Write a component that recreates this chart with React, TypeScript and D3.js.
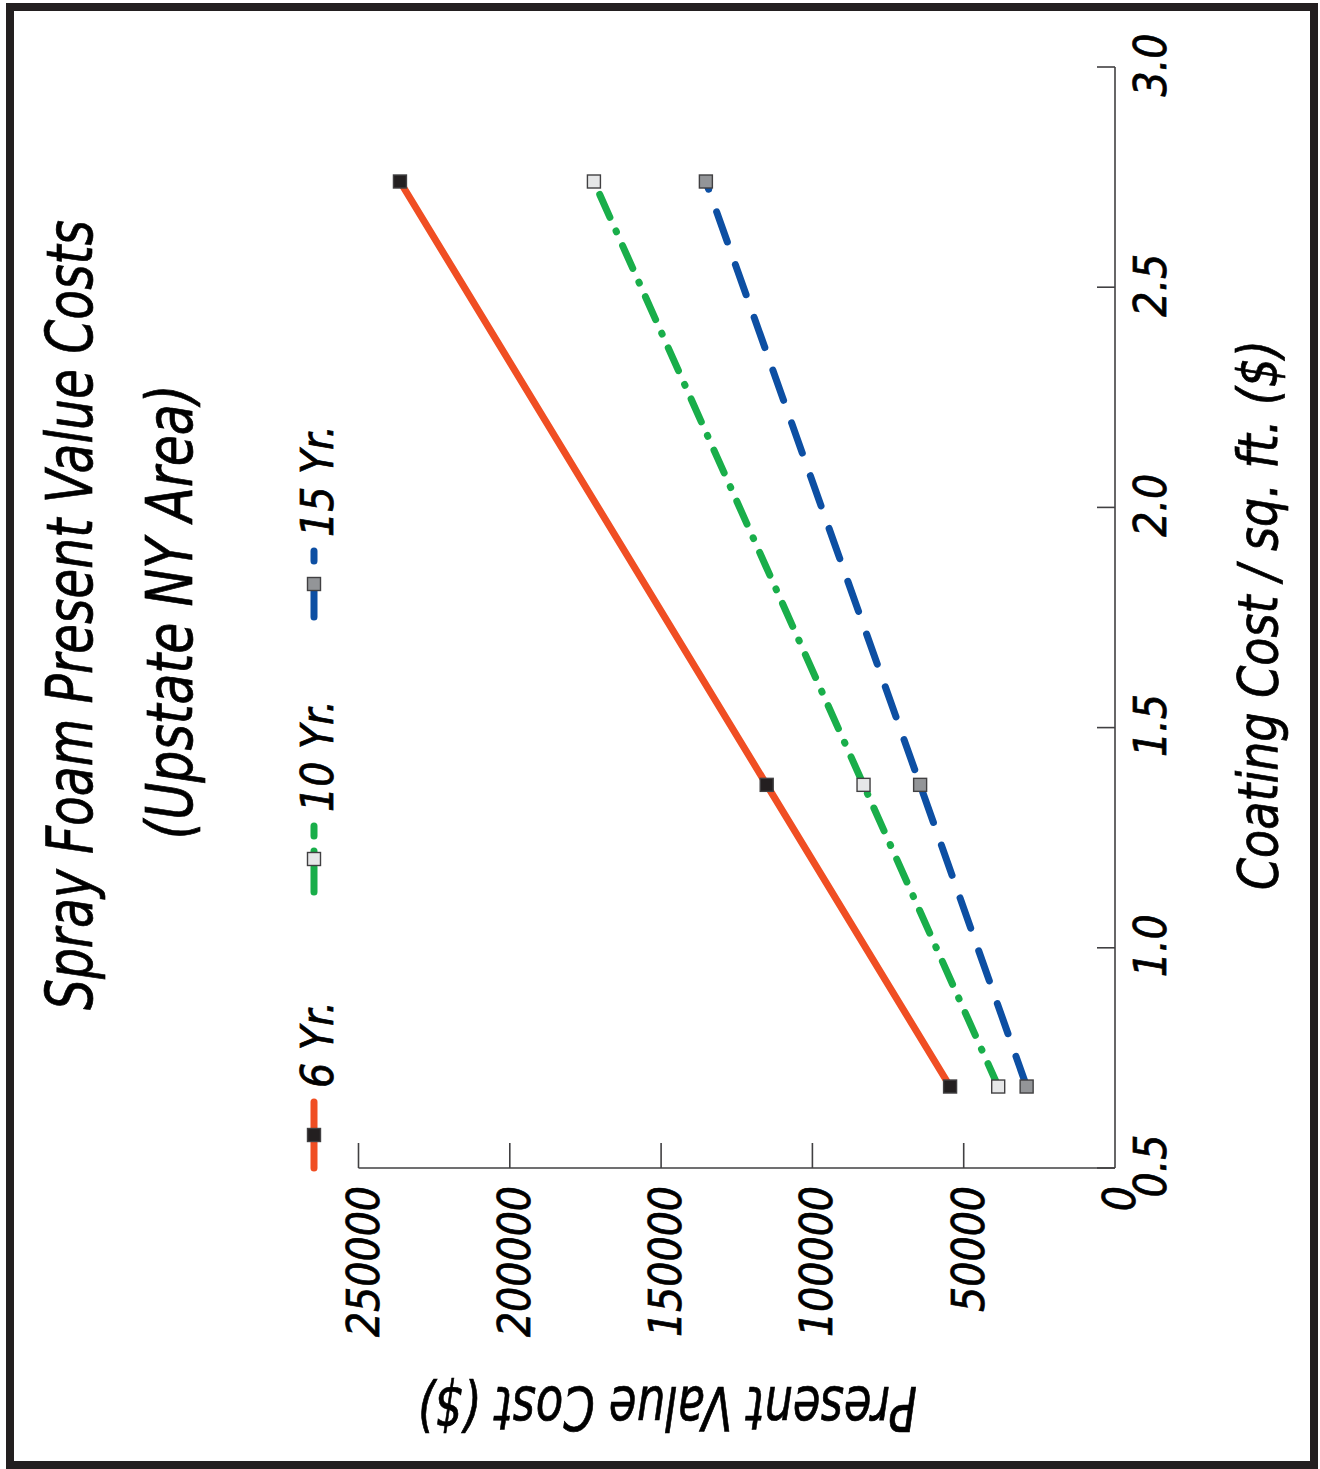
import React from "react";
import * as d3 from "d3";

const coatingCosts = [0.685, 1.37, 2.74];
const sixYr = [54500, 115100, 236300];
const tenYr = [38600, 83100, 172200];
const fifteenYr = [29200, 64400, 135200];
const xTicks = [0.5, 1.0, 1.5, 2.0, 2.5, 3.0];
const yTicks = [0, 50000, 100000, 150000, 200000, 250000];
const seriesNames = ["6 Yr.", "10 Yr.", "15 Yr."];
const titleLines = ["Spray Foam Present Value Costs", "(Upstate NY Area)"];
const xTitle = "Coating Cost / sq. ft. ($)";
const yTitle = "Present Value Cost ($)";

const FONT = "'Liberation Sans Narrow', 'DejaVu Sans Condensed', 'Liberation Sans', sans-serif";
const INK = "#231f20";
const AXIS = "#414042";

const series = [
  { name: seriesNames[0], values: sixYr, color: "#f04e23", dash: "none", fill: "#231f20" },
  { name: seriesNames[1], values: tenYr, color: "#19ae4a", dash: "25 15 1 15", fill: "#e6e7e8" },
  { name: seriesNames[2], values: fifteenYr, color: "#0d4fa3", dash: "32 24", fill: "#939598" },
];

const textStyle = {
  fontFamily: FONT,
  fontStyle: "italic" as const,
  fill: "#000",
  stroke: "#000",
  strokeWidth: 0.7,
};

export default function App() {
  const W = 1320, H = 1469;
  const xScale = d3.scaleLinear().domain([0.5, 3.0]).range([1168, 67]);
  const yScale = d3.scaleLinear().domain([0, 250000]).range([1115, 358.5]);
  const axisX = yScale(0);
  const axisY = xScale(0.5);

  const line = d3
    .line<[number, number]>()
    .x((d) => yScale(d[1]))
    .y((d) => xScale(d[0]));

  const legendCenters = [1135, 859, 584];
  const ms = 13;

  return (
    <svg width={W} height={H} style={{ position: "absolute", left: 0, top: 0, background: "#fff" }}>
      <rect x={0} y={0} width={W} height={H} fill="#fff" />
      <rect x={10} y={7} width={1304} height={1458} fill="none" stroke={INK} strokeWidth={8} />

      {/* title */}
      <text
        transform={`translate(92,615) rotate(-90)`}
        textAnchor="middle"
        fontSize={64}
        style={textStyle}
        textLength={790}
        lengthAdjust="spacingAndGlyphs"
      >
        {titleLines[0]}
      </text>
      <text
        transform={`translate(192,612) rotate(-90)`}
        textAnchor="middle"
        fontSize={64}
        style={textStyle}
        textLength={455}
        lengthAdjust="spacingAndGlyphs"
      >
        {titleLines[1]}
      </text>

      {/* axes */}
      <line x1={axisX} y1={xScale(3.0)} x2={axisX} y2={axisY} stroke={AXIS} strokeWidth={1.6} />
      <line x1={yScale(250000)} y1={axisY} x2={axisX} y2={axisY} stroke={AXIS} strokeWidth={1.6} />
      {xTicks.map((t) => (
        <g key={"xt" + t}>
          <line x1={axisX} x2={axisX - 18} y1={xScale(t)} y2={xScale(t)} stroke={AXIS} strokeWidth={1.6} />
          <text
            transform={`translate(1166,${xScale(t) - 2}) rotate(-90)`}
            textAnchor="middle"
            fontSize={44}
            style={textStyle}
          >
            {t.toFixed(1)}
          </text>
        </g>
      ))}
      {yTicks.map((t) => (
        <g key={"yt" + t}>
          {t > 0 && (
            <line x1={yScale(t)} x2={yScale(t)} y1={axisY} y2={axisY - 25} stroke={AXIS} strokeWidth={1.6} />
          )}
          <text
            transform={`translate(${yScale(t) + 20},1186) rotate(-90)`}
            textAnchor="end"
            fontSize={44}
            style={textStyle}
          >
            {String(t)}
          </text>
        </g>
      ))}

      {/* axis titles */}
      <text
        transform={`translate(1277,615) rotate(-90)`}
        textAnchor="middle"
        fontSize={56}
        style={textStyle}
        textLength={550}
        lengthAdjust="spacingAndGlyphs"
      >
        {xTitle}
      </text>
      <text
        transform={`translate(667,1387) rotate(180)`}
        textAnchor="middle"
        fontSize={60}
        style={textStyle}
        textLength={500}
        lengthAdjust="spacingAndGlyphs"
      >
        {yTitle}
      </text>

      {/* series */}
      {series.map((s) => (
        <g key={s.name}>
          <path
            d={line(coatingCosts.map((c, i) => [c, s.values[i]] as [number, number])) || ""}
            fill="none"
            stroke={s.color}
            strokeWidth={7}
            strokeLinecap={s.dash === "none" ? "butt" : "round"}
            strokeDasharray={s.dash === "none" ? undefined : s.dash}
          />
          {coatingCosts.map((c, i) => (
            <rect
              key={i}
              x={yScale(s.values[i]) - ms / 2}
              y={xScale(c) - ms / 2}
              width={ms}
              height={ms}
              fill={s.fill}
              stroke={AXIS}
              strokeWidth={1.4}
            />
          ))}
        </g>
      ))}

      {/* legend */}
      {series.map((s, i) => {
        const cy = legendCenters[i];
        return (
          <g key={"lg" + s.name}>
            <line
              x1={314}
              x2={314}
              y1={cy + 33}
              y2={cy - 33}
              stroke={s.color}
              strokeWidth={7}
              strokeLinecap="round"
              strokeDasharray={s.dash === "none" ? undefined : s.dash}
            />
            <rect x={314 - ms / 2} y={cy - ms / 2} width={ms} height={ms} fill={s.fill} stroke={AXIS} strokeWidth={1.4} />
            <text
              transform={`translate(333,${cy - 47}) rotate(-90)`}
              textAnchor="start"
              fontSize={44}
              style={textStyle}
            >
              {s.name}
            </text>
          </g>
        );
      })}
    </svg>
  );
}
